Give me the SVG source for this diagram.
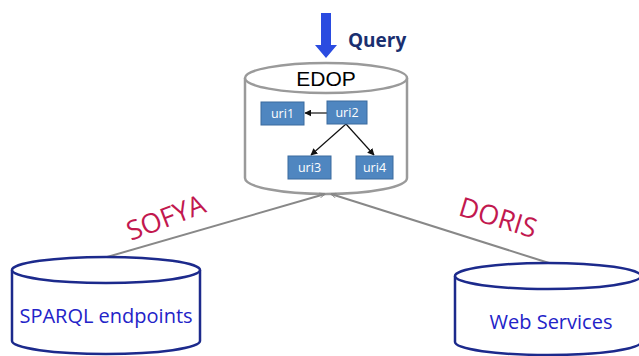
<svg xmlns="http://www.w3.org/2000/svg" width="639" height="356" viewBox="0 0 639 356">
<defs>
<style>
.cylg{fill:#fff;stroke:#9a9a9a;stroke-width:2.5}
.cylb{fill:#fff;stroke:#1c2a8c;stroke-width:2.5}
.uri rect{fill:#4f86c0;stroke:#3a6a9e;stroke-width:1}
.uri text{fill:#fff;font-family:"Open Sans","Liberation Sans",sans-serif;font-size:12.5px;text-anchor:middle}
.lbl{fill:#c2184f;font-family:"Open Sans","Liberation Sans",sans-serif;font-size:27px;text-anchor:middle}
.dbt{fill:#2323c8;font-family:"Open Sans","Liberation Sans",sans-serif;font-size:20px;text-anchor:middle}
.edge{stroke:#888;stroke-width:2;fill:none}
.iedge{stroke:#111;stroke-width:1.2;fill:none;marker-end:url(#ah)}
</style>
<marker id="ah" viewBox="0 0 10 10" refX="9" refY="5" markerWidth="7" markerHeight="7" orient="auto" markerUnits="userSpaceOnUse">
<path d="M0,0 L10,5 L0,10 z" fill="#111"/>
</marker>
<marker id="ga" viewBox="0 0 10 10" refX="9" refY="5" markerWidth="6" markerHeight="6" orient="auto" markerUnits="userSpaceOnUse">
<path d="M0,1 L10,5 L0,9" fill="none" stroke="#888" stroke-width="1.5"/>
</marker>
</defs>

<g id="query">
<path d="M321,13 H331 V45 H337 L326,58 L315,45 H321 Z" fill="#2a4be0"/>
<text x="348" y="47" fill="#1a2f70" font-family="'Open Sans','Liberation Sans',sans-serif" font-size="19" font-weight="bold">Query</text>
</g>

<g id="edop">
<path class="cylg" d="M245,78 V178 A81,16 0 0 0 407,178 V78"/>
<ellipse class="cylg" cx="326" cy="78" rx="81" ry="15"/>
<text x="326" y="86" font-family="'Liberation Sans',Arial,sans-serif" font-size="21" text-anchor="middle" fill="#000">EDOP</text>
</g>

<g id="connectors">
<line class="edge" x1="107" y1="257" x2="325" y2="194" marker-end="url(#ga)"/>
<line class="edge" x1="549" y1="263" x2="331" y2="194" marker-end="url(#ga)"/>
<line class="iedge" x1="327" y1="113" x2="305" y2="113"/>
<line class="iedge" x1="346" y1="124" x2="311" y2="155"/>
<line class="iedge" x1="346" y1="124" x2="374" y2="155"/>
</g>

<g id="uri1" class="uri"><rect x="261" y="102" width="43" height="23"/><text x="282.5" y="118">uri1</text></g>
<g id="uri2" class="uri"><rect x="327" y="101" width="40" height="23"/><text x="347" y="117">uri2</text></g>
<g id="uri3" class="uri"><rect x="288" y="156" width="43" height="23"/><text x="309.5" y="172">uri3</text></g>
<g id="uri4" class="uri"><rect x="356" y="156" width="37" height="23"/><text x="374.5" y="172">uri4</text></g>

<text class="lbl" transform="translate(166,218) rotate(-21)" y="9">SOFYA</text>
<text class="lbl" transform="translate(498,218) rotate(17)" y="9">DORIS</text>

<g id="sparql">
<path class="cylb" d="M12,270 V341 A94,13 0 0 0 200,341 V270"/>
<ellipse class="cylb" cx="106" cy="270" rx="94" ry="13"/>
<text class="dbt" x="106" y="323">SPARQL endpoints</text>
</g>

<g id="webservices">
<path class="cylb" d="M455,276 V342 A93,13 0 0 0 641,342 V276"/>
<ellipse class="cylb" cx="548" cy="276" rx="93" ry="13"/>
<text class="dbt" x="551" y="329">Web Services</text>
</g>
</svg>
